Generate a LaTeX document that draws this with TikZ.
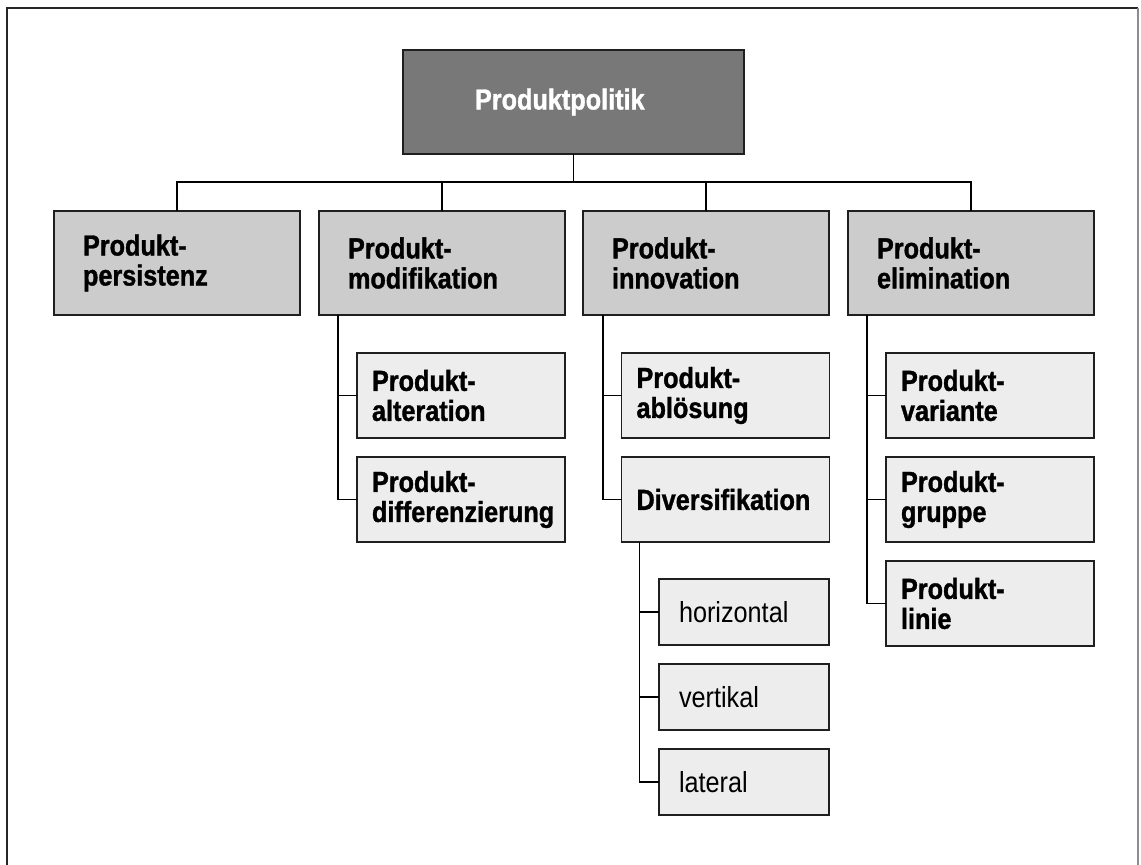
\documentclass[tikz,border=0pt]{standalone}
\usepackage{fontspec}
\setmainfont{Liberation Sans}[FakeStretch=0.87, BoldFeatures={FakeBold=1.2}]
\begin{document}
\begin{tikzpicture}[x=1pt,y=-1pt,
  every node/.style={font=\fontsize{29}{30}\selectfont},
  boxbase/.style={draw=black!88, line width=1.4pt, rectangle, align=left,
    inner ysep=0pt, outer sep=0pt},
  rootbox/.style={boxbase, fill=black!53, text=white, font=\fontsize{29}{30}\selectfont\bfseries,
    minimum width=341, minimum height=104, text width=197, inner xsep=72},
  mainbox/.style={boxbase, fill=black!20, font=\fontsize{29}{30}\selectfont\bfseries,
    minimum width=246, minimum height=104, text width=188, inner xsep=29},
  subbox/.style={boxbase, fill=black!7, font=\fontsize{29}{30}\selectfont\bfseries,
    minimum width=208, minimum height=85, text width=178, inner xsep=15},
  leafbox/.style={boxbase, fill=black!7,
    minimum width=170, minimum height=66, text width=130, inner xsep=20},
  link/.style={draw=black, line width=1.2pt}
]
\useasboundingbox (0,0) rectangle (1141,865);

% outer frame (open at the bottom)
\draw[line width=2pt, black!85] (7,865) -- (7,8) -- (1138,8);
\draw[line width=1.6pt, black!45] (1138,8) -- (1138,865);

% root
\node[rootbox] (root) at (573.5,102) {Produktpolitik};

% first level
\node[mainbox] (pers) at (177,263) {Produkt-\\persistenz};
\node[mainbox] (modi) at (442,263) {Produkt-\\modifikation};
\node[mainbox] (inno) at (706,263) {Produkt-\\innovation};
\node[mainbox] (elim) at (971,263) {Produkt-\\elimination};

% second level
\node[subbox] (alt)  at (461,395.5) {Produkt-\\alteration};
\node[subbox] (diff) at (461,499.5) {Produkt-\\differenzierung};
\node[subbox] (abl)  at (725.5,395.5) {Produkt-\\ablösung};
\node[subbox] (div)  at (725.5,499.5) {Diversifikation};
\node[subbox] (var)  at (990,395.5) {Produkt-\\variante};
\node[subbox] (grp)  at (990,499.5) {Produkt-\\gruppe};
\node[subbox] (lin)  at (990,603.5) {Produkt-\\linie};

% third level
\node[leafbox] (hor) at (744,612) {horizontal};
\node[leafbox] (ver) at (744,697) {vertikal};
\node[leafbox] (lat) at (744,782) {lateral};

% root to first level
\coordinate (bus) at (0,182);
\draw[link] (root.south) -- (root.south |- bus);
\draw[link] (pers.north) |- (elim.north |- bus) -- (elim.north);
\draw[link] (modi.north) -- (modi.north |- bus);
\draw[link] (inno.north) -- (inno.north |- bus);

% first to second level
\draw[link] ([xshift=19pt]modi.south west) |- (alt.west);
\draw[link] ([xshift=19pt]modi.south west) |- (diff.west);
\draw[link] ([xshift=20pt]inno.south west) |- (abl.west);
\draw[link] ([xshift=20pt]inno.south west) |- (div.west);
\draw[link] ([xshift=19pt]elim.south west) |- (var.west);
\draw[link] ([xshift=19pt]elim.south west) |- (grp.west);
\draw[link] ([xshift=19pt]elim.south west) |- (lin.west);

% second to third level
\draw[link] ([xshift=18pt]div.south west) |- (hor.west);
\draw[link] ([xshift=18pt]div.south west) |- (ver.west);
\draw[link] ([xshift=18pt]div.south west) |- (lat.west);
\end{tikzpicture}
\end{document}
